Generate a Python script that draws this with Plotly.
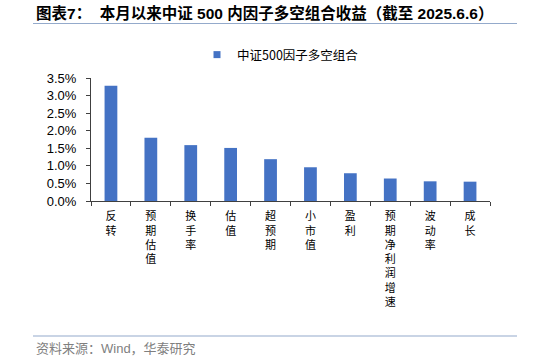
import plotly.graph_objects as go

categories = ["反转", "预期估值", "换手率", "估值", "超预期", "小市值", "盈利", "预期净利润增速", "波动率", "成长"]
values = [3.28, 1.80, 1.59, 1.51, 1.19, 0.96, 0.79, 0.64, 0.56, 0.55]
series_name = "中证500因子多空组合"
y_ticks = [0, 0.5, 1.0, 1.5, 2.0, 2.5, 3.0, 3.5]
y_ticklabels = ["0.0%", "0.5%", "1.0%", "1.5%", "2.0%", "2.5%", "3.0%", "3.5%"]

W, H = 534, 361
L, R, T, B = 91, 490, 78, 201  # plot area in pixels


def px_x(x):
    return (x - L) / (R - L)


def px_y(y):
    return (B - y) / (B - T)


CJK = "Noto Sans CJK SC, Liberation Sans, sans-serif"
BAR_COLOR = "#4472C4"

fig = go.Figure()
fig.add_trace(go.Bar(
    x=categories,
    y=values,
    name=series_name,
    marker=dict(color=BAR_COLOR, line=dict(width=0)),
    showlegend=False,
    legendgroup="s",
))
# legend entry with a small square symbol for the same series
fig.add_trace(go.Scatter(
    x=[None], y=[None], mode="markers",
    name=series_name,
    marker=dict(symbol="square", size=7, color=BAR_COLOR),
    showlegend=True,
    legendgroup="s",
))

fig.update_layout(
    width=W, height=H,
    margin=dict(l=L, r=W - R, t=T, b=H - B, pad=0),
    paper_bgcolor="white", plot_bgcolor="white",
    bargap=0.68,
    font=dict(family=CJK, size=12, color="#000000"),
    showlegend=True,
    legend=dict(
        orientation="h",
        x=px_x(197), y=px_y(55), xanchor="left", yanchor="middle",
        font=dict(family=CJK, size=12.5, color="#000000"),
        bgcolor="rgba(0,0,0,0)",
        itemwidth=30,
    ),
    xaxis=dict(
        tickmode="array",
        tickvals=categories,
        ticktext=["<br>".join(list(c)) for c in categories],
        tickson="boundaries",
        ticks="outside", ticklen=4, tickcolor="#404040", tickwidth=1,
        ticklabelstandoff=5,
        showline=True, linecolor="#404040", linewidth=1,
        showgrid=False, zeroline=False,
        tickfont=dict(family=CJK, size=11, color="#000000"),
        range=[-0.5, len(categories) - 0.5],
    ),
    yaxis=dict(
        range=[0, 3.5],
        tickmode="array",
        tickvals=y_ticks,
        ticktext=y_ticklabels,
        ticks="outside", ticklen=4, tickcolor="#404040", tickwidth=1,
        ticklabelstandoff=7,
        showline=True, linecolor="#404040", linewidth=1,
        showgrid=False, zeroline=False,
        tickfont=dict(family="Liberation Sans, Arial, sans-serif", size=13, color="#000000"),
    ),
)

# Title
lat = '<span style="font-size:15.5px">{}</span>'
title_text = ("<b>图表" + lat.format("7") + "：  本月以来中证 " + lat.format("500")
              + " 内因子多空组合收益（截至 " + lat.format("2025.6.6") + "）</b>")
fig.add_annotation(
    text=title_text,
    xref="paper", yref="paper", x=px_x(34), y=px_y(13),
    xanchor="left", yanchor="middle", showarrow=False,
    font=dict(family="Liberation Sans, Noto Sans CJK SC, sans-serif", size=15.5, color="#000000"),
)
fig.add_shape(type="line", xref="paper", yref="paper",
              x0=px_x(33), x1=px_x(517), y0=px_y(23.5), y1=px_y(23.5),
              line=dict(color="#94AACB", width=1.2))

# Footer
fig.add_shape(type="line", xref="paper", yref="paper",
              x0=px_x(33), x1=px_x(517), y0=px_y(336), y1=px_y(336),
              line=dict(color="#94AACB", width=1.2))
fig.add_annotation(
    text="资料来源：Wind，华泰研究",
    xref="paper", yref="paper", x=px_x(34), y=px_y(348.5),
    xanchor="left", yanchor="middle", showarrow=False,
    font=dict(family="Liberation Sans, Noto Sans CJK SC, sans-serif", size=13, color="#7F7F7F"),
)

fig.write_html("out.html")
